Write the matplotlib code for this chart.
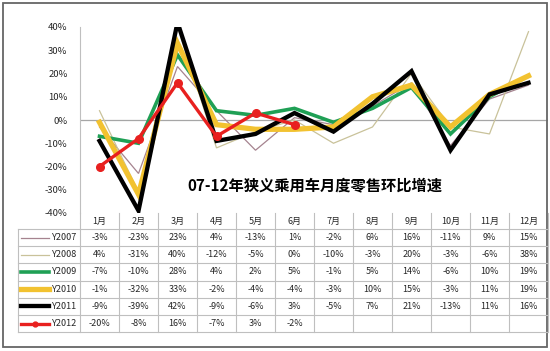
import matplotlib
matplotlib.use("Agg")
import matplotlib.pyplot as plt
from matplotlib.lines import Line2D
from matplotlib.patches import Rectangle
from matplotlib.transforms import blended_transform_factory

plt.rcParams['font.family'] = ['Noto Sans CJK SC', 'DejaVu Sans']

months = ['1月', '2月', '3月', '4月', '5月', '6月', '7月', '8月', '9月', '10月', '11月', '12月']
y2007 = [-3, -23, 23, 4, -13, 1, -2, 6, 16, -11, 9, 15]
y2008 = [4, -31, 40, -12, -5, 0, -10, -3, 20, -3, -6, 38]
y2009 = [-7, -10, 28, 4, 2, 5, -1, 5, 14, -6, 10, 19]
y2010 = [-1, -32, 33, -2, -4, -4, -3, 10, 15, -3, 11, 19]
y2011 = [-9, -39, 42, -9, -6, 3, -5, 7, 21, -13, 11, 16]
y2012 = [-20, -8, 16, -7, 3, -2]
series_names = ['Y2007', 'Y2008', 'Y2009', 'Y2010', 'Y2011', 'Y2012']
yticks = [-40, -30, -20, -10, 0, 10, 20, 30, 40]
title = '07-12年狭义乘用车月度零售环比增速'

W, H = 550, 351
txt_c = '#262626'


def fx(px):
    return px / W


def fy(py):
    return 1 - py / H


fig = plt.figure(figsize=(W / 100, H / 100), dpi=100)
fig.patch.set_facecolor('white')

# outer frame
fig.patches.append(Rectangle((fx(3), fy(347)), fx(544), 344 / H, transform=fig.transFigure,
                             fill=False, edgecolor='#666666', linewidth=1.3))

ax = fig.add_axes([fx(80), fy(213), fx(468), 186 / H])
x = list(range(len(months)))

styles = [
    (y2007, dict(color='#A5838F', linewidth=0.9)),
    (y2008, dict(color='#C9C29A', linewidth=0.9)),
    (y2009, dict(color='#1FA055', linewidth=2.6)),
    (y2010, dict(color='#F2C230', linewidth=3.8)),
    (y2011, dict(color='#000000', linewidth=3.1)),
    (y2012, dict(color='#E8201F', linewidth=2.4, marker='o', markersize=5.5)),
]
for vals, st in styles:
    ax.plot(x[:len(vals)], vals, solid_joinstyle='miter', **st)

ax.set_xlim(-0.5, len(months) - 0.5)
ax.set_ylim(-40, 40)
ax.set_yticks(yticks)
ax.set_yticklabels([f'{v}%' for v in yticks], fontsize=6.8, color=txt_c)
ax.set_xticks([])
ax.tick_params(axis='y', length=0, pad=9)
ax.axhline(0, color='#A6A6A6', linewidth=0.9, zorder=0)
for s in ['top', 'right', 'bottom']:
    ax.spines[s].set_visible(False)
ax.spines['left'].set_color('#BFBFBF')
ax.patch.set_alpha(0)

fig.text(fx(315), fy(185), title, fontsize=11, fontweight='bold', ha='center', va='center')

# data table under the plot
tr = blended_transform_factory(ax.transData, fig.transFigure)
grid_c = '#BFBFBF'
header_top, header_bot = 213, 229
row_h = 17.2
rows = [y2007, y2008, y2009, y2010, y2011, y2012]
table_bot = header_bot + row_h * len(rows)

for i, m in enumerate(months):
    fig.text(i, fy((header_top + header_bot) / 2), m, transform=tr, fontsize=6.5,
             ha='center', va='center', color=txt_c)
for i in range(len(months) + 1):
    fig.lines.append(Line2D([i - 0.5, i - 0.5], [fy(header_top), fy(table_bot)],
                            transform=tr, color=grid_c, linewidth=0.8))
fig.lines.append(Line2D([fx(18), fx(18)], [fy(header_bot), fy(table_bot)],
                        transform=fig.transFigure, color=grid_c, linewidth=0.8))
for r in range(len(rows) + 1):
    yy = fy(header_bot + r * row_h)
    fig.lines.append(Line2D([fx(18), fx(548)], [yy, yy], transform=fig.transFigure,
                            color=grid_c, linewidth=0.8))

for r, (vals, st) in enumerate(styles):
    yc = fy(header_bot + (r + 0.5) * row_h)
    kw = dict(st)
    if 'marker' in kw:
        kw['markersize'] = 3.5
        kw['markevery'] = [1]
        xs = [fx(21), fx(35), fx(49)]
    else:
        xs = [fx(21), fx(49)]
    fig.lines.append(Line2D(xs, [yc] * len(xs), transform=fig.transFigure, **kw))
    fig.text(fx(77), yc, series_names[r], fontsize=6.5, ha='right', va='center', color=txt_c)
    for i, v in enumerate(vals):
        fig.text(i, yc, f'{v}%', transform=tr, fontsize=6.5, ha='center', va='center',
                 color=txt_c)

fig.savefig('out.png', dpi=100)
